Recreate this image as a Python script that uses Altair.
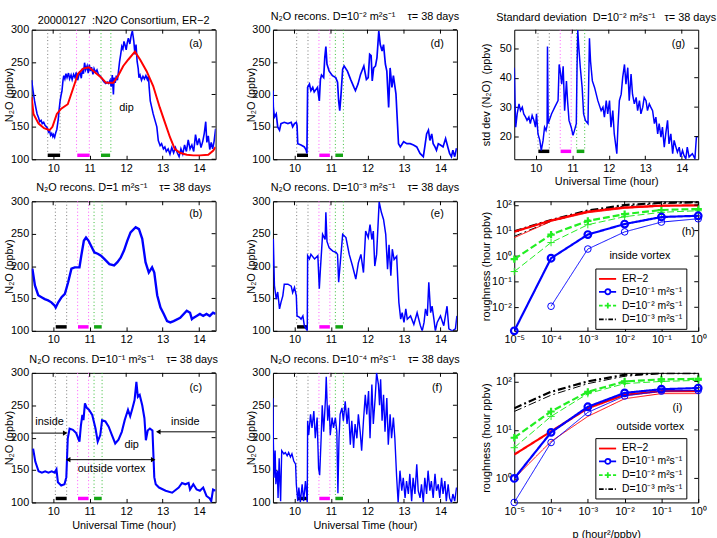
import altair as alt
import pandas as pd

FONT = "Liberation Sans"
W, H = 186, 131
TDOM = [9.41, 14.45]
HOURS = [10, 11, 12, 13, 14]
N2O_TICKS = [100, 150, 200, 250, 300]
SD_TICKS = [20, 30, 40, 50]
BLUE, RED, GREEN, MAG, BARGREEN = "#0000ff", "#ff0000", "#22ee22", "#ff00ff", "#14a514"
NB = "\u00a0"

# ---------------- (a) ER-2 measurement (blue) and smoothed (red)
A_T = [9.41, 9.45, 9.49, 9.53, 9.56, 9.6, 9.63, 9.67, 9.7, 9.74, 9.78, 9.82, 9.85, 9.87, 9.9, 9.93, 9.96, 9.99,
       10.01, 10.04, 10.07, 10.1, 10.14, 10.16, 10.19, 10.22, 10.24, 10.27, 10.29, 10.32, 10.35, 10.38, 10.42,
       10.45, 10.49, 10.52, 10.56, 10.6, 10.63, 10.67, 10.7, 10.73, 10.77, 10.8, 10.83, 10.86, 10.89, 10.93,
       10.96, 10.99, 11.02, 11.05, 11.09, 11.12, 11.16, 11.2, 11.24, 11.28, 11.32, 11.36, 11.4, 11.44, 11.48,
       11.52, 11.56, 11.59, 11.62, 11.65, 11.67, 11.7, 11.73, 11.76, 11.79, 11.82, 11.85, 11.88, 11.91, 11.94,
       11.97, 12.0, 12.03, 12.06, 12.1, 12.14, 12.17, 12.19, 12.21, 12.24, 12.27, 12.3, 12.33, 12.35, 12.38,
       12.42, 12.46, 12.5, 12.54, 12.58, 12.61, 12.63, 12.66, 12.7, 12.74, 12.79, 12.84, 12.88, 12.93, 12.97,
       13.02, 13.06, 13.1, 13.15, 13.2, 13.25, 13.3, 13.35, 13.4, 13.45, 13.5, 13.55, 13.6, 13.65, 13.7, 13.75,
       13.8, 13.85, 13.9, 13.95, 14.0, 14.05, 14.1, 14.14, 14.18, 14.21, 14.25, 14.29, 14.33, 14.37, 14.41, 14.45]
A_V = [222, 205, 190, 178, 170, 164, 158, 160, 155, 157, 152, 150, 147, 142, 144, 137, 140, 135,
       138, 134, 141, 146, 162, 175, 190, 200, 205, 222, 229, 224, 232, 226, 233,
       224, 230, 223, 231, 226, 234, 222, 229, 236, 225, 240, 232, 249, 238, 244,
       233, 246, 236, 242, 231, 240, 234, 238, 231, 229, 226, 222, 219, 217, 219,
       217, 222, 212, 230, 200, 226, 218, 229, 222, 236, 251, 262, 274, 270, 282,
       276, 269, 280, 287, 278, 292, 298, 290, 282, 262, 277, 251, 240, 226, 230,
       222, 228, 224, 229, 223, 228, 211, 190, 180, 170, 160, 150, 129, 121, 124,
       116, 119, 112, 116, 108, 118, 110, 118, 110, 104, 116, 108, 122, 112, 130, 116,
       122, 112, 138, 122, 132, 118, 128, 140, 158, 126, 136, 115, 126, 116, 128, 147]
A_RED_T = [9.41, 9.46, 9.6, 9.75, 9.9, 9.98, 10.1, 10.22, 10.4, 10.55, 10.68, 10.82, 10.98, 11.15, 11.32,
           11.45, 11.65, 11.78, 11.92, 12.06, 12.24, 12.38, 12.56, 12.74, 12.92, 13.06, 13.2, 13.33, 13.47,
           13.66, 13.84, 14.02, 14.25, 14.38, 14.45]
A_RED_V = [196, 170, 155, 148, 145, 150, 170, 178, 185, 210, 232, 240, 242, 234, 226,
           218, 218, 229, 244, 254, 266, 254, 236, 213, 180, 157, 134, 116, 110,
           107, 106, 106, 107, 113, 119]

# ---------------- (b) D = 1
B_T = [9.43, 9.5, 9.59, 9.68, 9.77, 9.86, 9.95, 10.04, 10.07, 10.14, 10.23, 10.32, 10.36, 10.41, 10.5, 10.59,
       10.72, 10.77, 10.84, 10.9, 10.97, 11.04, 11.13, 11.22, 11.31, 11.4, 11.54, 11.67, 11.76, 11.85, 11.94,
       12.03, 12.12, 12.26, 12.35, 12.44, 12.53, 12.62, 12.71, 12.77, 12.85, 12.94, 13.03, 13.12, 13.21, 13.3,
       13.48, 13.66, 13.75, 13.8, 13.84, 13.93, 14.02, 14.11, 14.2, 14.29, 14.38, 14.45]
B_V = [196, 170, 155, 152, 149, 147, 144, 139, 136, 144, 152, 157, 165, 175, 196, 198,
       198, 216, 239, 244, 239, 231, 221, 219, 216, 211, 203, 201, 206, 213, 224,
       239, 252, 260, 257, 242, 206, 190, 198, 190, 155, 136, 126, 115, 113, 115,
       120, 131, 128, 118, 120, 123, 126, 123, 126, 123, 128, 126]

# ---------------- (c) D = 1e-1
C_T = [9.45, 9.51, 9.6, 9.69, 9.78, 9.87, 9.96, 10.04, 10.09, 10.13, 10.22, 10.31, 10.36, 10.4, 10.45, 10.54,
       10.63, 10.72, 10.76, 10.8, 10.83, 10.87, 10.92, 10.98, 11.07, 11.16, 11.22, 11.29, 11.34, 11.43, 11.52,
       11.61, 11.7, 11.79, 11.88, 11.96, 12.05, 12.11, 12.17, 12.23, 12.28, 12.32, 12.37, 12.44, 12.5, 12.54,
       12.59, 12.65, 12.72, 12.77, 12.81, 12.9, 13.08, 13.26, 13.44, 13.53, 13.62, 13.71, 13.75, 13.84, 13.93,
       14.02, 14.11, 14.2, 14.29, 14.33, 14.38, 14.45]
C_V = [183, 163, 148, 146, 148, 146, 148, 146, 151, 131, 126, 128, 139, 199, 214, 212,
       207, 194, 219, 235, 227, 253, 246, 243, 235, 214, 194, 204, 227, 225, 217,
       204, 191, 197, 209, 227, 243, 233, 245, 258, 286, 263, 266, 250, 230, 196,
       211, 214, 211, 139, 128, 123, 118, 115, 123, 130, 128, 130, 120, 128, 120,
       118, 123, 110, 106, 102, 120, 118]

# ---------------- (d) D = 1e-2
D_T = [9.41, 9.42, 9.45, 9.5, 9.54, 9.59, 9.63, 9.72, 9.82, 9.91, 9.95, 10.0, 10.05, 10.07, 10.09, 10.18,
       10.27, 10.32, 10.34, 10.36, 10.41, 10.45, 10.5, 10.54, 10.63, 10.68, 10.71, 10.74, 10.8, 10.83, 10.86,
       10.89, 10.95, 11.04, 11.13, 11.18, 11.21, 11.24, 11.27, 11.32, 11.36, 11.45, 11.54, 11.63, 11.67, 11.74,
       11.81, 11.9, 11.97, 12.02, 12.06, 12.1, 12.13, 12.17, 12.22, 12.26, 12.31, 12.35, 12.4, 12.44, 12.49,
       12.53, 12.58, 12.62, 12.67, 12.71, 12.78, 12.85, 12.9, 12.99, 13.08, 13.17, 13.26, 13.35, 13.44, 13.53,
       13.57, 13.62, 13.67, 13.71, 13.76, 13.8, 13.85, 13.89, 13.94, 14.0, 14.07, 14.14, 14.21, 14.25, 14.3,
       14.34, 14.39, 14.44]
D_V = [206, 180, 165, 170, 150, 145, 155, 157, 155, 157, 150, 155, 157, 152, 124, 122,
       119, 114, 109, 211, 216, 206, 211, 204, 211, 190, 223, 230, 226, 257, 274,
       247, 236, 229, 226, 219, 190, 175, 196, 239, 244, 236, 223, 211, 206, 216,
       231, 244, 223, 226, 262, 260, 221, 241, 244, 257, 298, 277, 267, 277, 247,
       236, 180, 241, 211, 229, 201, 124, 119, 127, 124, 124, 122, 119, 109, 104,
       119, 139, 145, 129, 139, 124, 119, 114, 124, 122, 119, 132, 117, 109, 104,
       114, 104, 117]

# ---------------- (e) D = 1e-3
E_T = [9.41, 9.42, 9.45, 9.5, 9.54, 9.59, 9.63, 9.68, 9.72, 9.82, 9.91, 9.95, 10.0, 10.05, 10.07, 10.14,
       10.18, 10.23, 10.27, 10.32, 10.35, 10.36, 10.41, 10.45, 10.55, 10.64, 10.68, 10.71, 10.77, 10.84, 10.86,
       10.89, 10.95, 11.05, 11.14, 11.18, 11.21, 11.24, 11.32, 11.41, 11.5, 11.59, 11.68, 11.75, 11.82, 11.89,
       11.95, 12.02, 12.07, 12.12, 12.16, 12.2, 12.25, 12.32, 12.38, 12.44, 12.5, 12.55, 12.59, 12.64, 12.68,
       12.73, 12.8, 12.86, 12.91, 12.95, 13.0, 13.05, 13.09, 13.18, 13.27, 13.36, 13.45, 13.5, 13.55, 13.59,
       13.64, 13.68, 13.73, 13.77, 13.82, 13.86, 13.91, 14.0, 14.09, 14.18, 14.23, 14.32, 14.41, 14.45]
E_V = [200, 242, 170, 149, 160, 134, 144, 154, 172, 172, 169, 159, 167, 154, 123, 121,
       118, 123, 108, 103, 100, 216, 211, 218, 211, 216, 165, 195, 249, 241, 283,
       238, 228, 223, 221, 218, 175, 195, 249, 244, 218, 200, 180, 205, 218, 190,
       254, 244, 264, 241, 254, 200, 218, 299, 283, 272, 249, 195, 233, 185, 226,
       210, 215, 144, 118, 128, 113, 134, 118, 123, 110, 128, 108, 100, 113, 134,
       123, 175, 128, 138, 118, 100, 113, 123, 108, 138, 103, 100, 103, 123]

# ---------------- (f) D = 1e-4
F_T = [9.41, 9.42, 9.44, 9.47, 9.49, 9.53, 9.55, 9.58, 9.62, 9.65, 9.71, 9.75, 9.8, 9.84, 9.89, 9.93, 9.98,
       10.03, 10.05, 10.09, 10.12, 10.16, 10.21, 10.25, 10.3, 10.35, 10.36, 10.39, 10.44, 10.48, 10.53, 10.57,
       10.62, 10.66, 10.69, 10.73, 10.76, 10.8, 10.85, 10.87, 10.91, 10.95, 10.98, 11.03, 11.07, 11.12, 11.16,
       11.19, 11.22, 11.25, 11.3, 11.34, 11.39, 11.44, 11.48, 11.53, 11.57, 11.62, 11.66, 11.71, 11.75, 11.8,
       11.84, 11.89, 11.94, 11.98, 12.03, 12.07, 12.12, 12.16, 12.21, 12.25, 12.3, 12.33, 12.36, 12.4, 12.44,
       12.48, 12.53, 12.57, 12.62, 12.66, 12.71, 12.75, 12.8, 12.84, 12.89, 12.94, 12.98, 13.03, 13.07, 13.12,
       13.16, 13.21, 13.25, 13.3, 13.35, 13.39, 13.44, 13.48, 13.53, 13.57, 13.62, 13.66, 13.71, 13.75, 13.8,
       13.85, 13.89, 13.94, 13.98, 14.03, 14.07, 14.12, 14.16, 14.21, 14.25, 14.3, 14.34, 14.39, 14.44]
F_V = [261, 199, 138, 180, 128, 149, 107, 168, 102, 180, 175, 177, 172, 177, 170, 175, 164,
       159, 128, 102, 123, 100, 128, 102, 133, 100, 226, 204, 236, 215, 241, 199,
       231, 153, 142, 199, 250, 209, 261, 294, 226, 250, 204, 231, 215, 231, 209,
       114, 199, 236, 246, 226, 256, 221, 246, 189, 226, 184, 221, 199, 236, 209,
       180, 226, 266, 236, 272, 199, 282, 221, 261, 300, 282, 250, 290, 226, 266,
       209, 261, 189, 236, 199, 231, 199, 138, 100, 149, 118, 138, 107, 133, 113,
       144, 102, 138, 113, 159, 118, 107, 128, 100, 138, 113, 149, 118, 133, 107,
       144, 118, 128, 107, 138, 113, 133, 102, 128, 107, 100, 113, 102, 123]

# ---------------- (g) standard deviation, D = 1e-2
G_T = [9.41, 9.43, 9.45, 9.49, 9.54, 9.58, 9.63, 9.67, 9.72, 9.76, 9.81, 9.85, 9.9, 9.95, 9.99, 10.02,
       10.06, 10.11, 10.15, 10.2, 10.24, 10.28, 10.31, 10.32, 10.34, 10.43, 10.52, 10.61, 10.64, 10.67, 10.71,
       10.75, 10.79, 10.84, 10.87, 10.91, 10.97, 11.02, 11.06, 11.11, 11.13, 11.15, 11.18, 11.22, 11.27, 11.31,
       11.36, 11.43, 11.47, 11.5, 11.55, 11.61, 11.7, 11.79, 11.84, 11.88, 11.93, 11.97, 12.02, 12.06, 12.11,
       12.15, 12.22, 12.25, 12.29, 12.34, 12.38, 12.43, 12.47, 12.52, 12.56, 12.61, 12.65, 12.7, 12.75, 12.79,
       12.84, 12.88, 12.93, 12.97, 13.02, 13.06, 13.11, 13.15, 13.2, 13.25, 13.29, 13.34, 13.38, 13.43, 13.47,
       13.52, 13.56, 13.61, 13.65, 13.7, 13.75, 13.79, 13.84, 13.88, 13.93, 13.97, 14.02, 14.06, 14.11, 14.15,
       14.2, 14.29, 14.36, 14.4, 14.44]
G_V = [43.4, 32.2, 23.2, 27.7, 31.1, 28.8, 30, 27.7, 26.6, 25.5, 26.6, 24.4, 27.2, 25.5, 23.2, 27.7,
       20.9, 18.7, 15.3, 18.7, 23.2, 22.1, 23.8, 50.6, 24.4, 27.7, 30, 32.2, 44.5, 42.3, 37.8,
       43.9, 28.8, 38.9, 32.2, 25.5, 23.2, 20.4, 22.1, 24.4, 43.4, 56.2, 50, 43.4, 36.7, 27.7,
       25.5, 24.4, 53.4, 45.6, 38.9, 36.7, 32.2, 28.8, 30, 26.6, 32.2, 27.7, 32.2, 23.2, 28.8,
       20.9, 14.2, 23.2, 32.2, 34.4, 40, 44.5, 37.8, 43.4, 32.2, 41.2, 34.4, 31.1, 33.3, 28.8,
       32.2, 27.7, 30, 33.3, 32.2, 28.8, 31.1, 30, 28.8, 24.4, 26.6, 20.9, 24.4, 19.8, 23.2,
       16.4, 20.9, 25.5, 17.5, 20.9, 14.2, 18.7, 16.4, 14.7, 16.4, 13.1, 15.3, 13.6, 12.5, 16.4,
       13.1, 14.2, 12.5, 19.8, 20]

# ---------------- time markers (dotted lines and coloured bars)
A_LINES = [9.85, 10.19, 10.64, 10.99, 11.31, 11.58]
A_BARS = [(9.85, 10.19), (10.66, 11.0), (11.31, 11.56)]
LINES = [10.06, 10.37, 10.67, 10.97, 11.12, 11.34]
BARS = [(10.07, 10.37), (10.68, 10.97), (11.12, 11.33)]
LINE_COLORS = ["#777777", "#777777", "#ff55ff", "#ff55ff", "#33bb33", "#33bb33"]
BAR_COLORS = ["black", MAG, BARGREEN]

# ---------------- roughness (h: inside vortex, i: outside vortex)
P = [1e-5, 1e-4, 1e-3, 1e-2, 1e-1, 1]
SERIES = ["ER\u22122", "D=10\u207b\u00b9 m\u00b2s\u207b\u00b9", "D=10\u207b\u00b2 m\u00b2s\u207b\u00b9",
          "D=10\u207b\u00b3 m\u00b2s\u207b\u00b9"]
H_THICK = {0: [9, 25, 55, 80, 95, 97], 1: [0.0012, 0.83, 7, 18, 34, 38],
           2: [0.76, 7, 24, 44, 64, 70], 3: [9.4, 26, 61, 100, 123, 130]}
H_THIN = {0: [5.3, 23, 50, 74, 90, 95], 1: [None, 0.011, 1.9, 8.9, 21.5, 29],
          2: [0.25, 3.4, 17, 35, 52, 60], 3: [6, 23, 55, 92, 116, 123]}
I_THICK = {0: [3.1, 9.3, 28, 53, 63, 63], 1: [1.0, 8.9, 30, 58, 69, 73],
           2: [6.9, 24, 61, 100, 110, 113], 3: [28, 61, 100, 137, 150, 150]}
I_THIN = {0: [1.0, 5.8, 19, 44, 56, 56], 1: [0.32, 5.5, 23, 50, 63, 65],
          2: [4.3, 19, 56, 90, 100, 105], 3: [24, 52, 90, 128, 144, 144]}
S_COLORS = [RED, BLUE, GREEN, "black"]
S_DASH = [[1, 0], [1, 0], [7, 3], [8, 3, 2, 3]]
LEG_PATHS = ["M-1.3,0L2,0",
             "M-1.3,0L-0.1,0M0.9,0L2,0M-0.1,0A0.5,0.5,0,1,1,0.9,0A0.5,0.5,0,1,1,-0.1,0",
             "M-1.3,0L-0.6,0M-0.2,0L1.0,0M1.4,0L2,0M0.4,-0.55L0.4,0.55",
             "M-1.3,0L-0.4,0M-0.05,0L0.15,0M0.5,0L1.4,0M1.75,0L1.95,0"]
PLUS = "M-1,0L1,0M0,-1L0,1"

SUP_EXPR = ("datum.value < 3e-5 ? '10\u207b\u2075' : datum.value < 3e-4 ? '10\u207b\u2074' : "
            "datum.value < 3e-3 ? '10\u207b\u00b3' : datum.value < 3e-2 ? '10\u207b\u00b2' : "
            "datum.value < 0.3 ? '10\u207b\u00b9' : datum.value < 3 ? '10\u2070' : "
            "datum.value < 30 ? '10\u00b9' : '10\u00b2'")


def axis(values, title, orient, expr=None, fmt=None, title_x=-26, title_pad=3):
    kw = dict(values=values, tickSize=4, tickColor="black", offset=-4, domain=False, grid=False,
              labelPadding=3, labelFlush=False)
    kw["title"] = title if title else None
    if title and orient == "y":
        kw.update(titleX=title_x, titleBaseline="middle")
    if title and orient == "x":
        kw.update(titlePadding=title_pad)
    if expr:
        kw["labelExpr"] = expr
    if fmt:
        kw["format"] = fmt
    return alt.Axis(**kw)


def text_layer(s, x, y, baseline="middle"):
    return alt.Chart(pd.DataFrame({"lab": [s]})).mark_text(
        font=FONT, fontSize=11, color="black", baseline=baseline).encode(
        text="lab:N", x=alt.value(x), y=alt.value(y))


def ts_panel(t, v, title, lab, ydom, yticks, ytitle, lines, bars, xtitle=None, bar_off=4,
             red=None, notes=None, arrows=None, heads=None, title_y=-10, title_x=-26, lab_y=15, sw=1.4):
    xs = alt.Scale(domain=TDOM, nice=False, zero=False)
    ys = alt.Scale(domain=ydom, nice=False, zero=False)
    X = alt.X("t:Q", scale=xs, axis=axis(HOURS, xtitle, "x", fmt="d"))
    Y = alt.Y("v:Q", scale=ys, axis=axis(yticks, ytitle, "y", title_x=title_x))
    layers = []
    dl = pd.DataFrame({"t": lines, "c": LINE_COLORS})
    layers.append(alt.Chart(dl).mark_rule(strokeDash=[1, 2.5], strokeWidth=1).encode(
        x=X, y=alt.value(0), y2=alt.value(H - bar_off - 3), color=alt.Color("c:N", scale=None)))
    db = pd.DataFrame({"t": [b[0] for b in bars], "t2": [b[1] for b in bars], "c": BAR_COLORS})
    layers.append(alt.Chart(db).mark_rule(strokeWidth=3.5).encode(
        x=X, x2="t2:Q", y=alt.value(H - bar_off), color=alt.Color("c:N", scale=None)))
    layers.append(alt.Chart(pd.DataFrame({"t": t, "v": v})).mark_line(
        color=BLUE, strokeWidth=sw, clip=True).encode(x=X, y=Y))
    if red is not None:
        layers.append(alt.Chart(pd.DataFrame({"t": red[0], "v": red[1]})).mark_line(
            color=RED, strokeWidth=2, clip=True).encode(x=X, y=Y))
    if arrows is not None:
        layers.append(alt.Chart(pd.DataFrame(arrows, columns=["t", "t2", "v"])).mark_rule(
            color="black", strokeWidth=1).encode(x=X, x2="t2:Q", y=Y))
        layers.append(alt.Chart(pd.DataFrame(heads, columns=["t", "v", "sh"])).mark_point(
            filled=True, color="black", size=28, opacity=1).encode(
            x=X, y=Y, shape=alt.Shape("sh:N", scale=None)))
    if notes is not None:
        layers.append(alt.Chart(pd.DataFrame(notes, columns=["t", "v", "s"])).mark_text(
            font=FONT, fontSize=11, color="black").encode(x=X, y=Y, text="s:N"))
    layers.append(alt.Chart(pd.DataFrame({"t": HOURS})).mark_rule(color="black").encode(
        x=X, y=alt.value(0), y2=alt.value(4)))
    layers.append(alt.Chart(pd.DataFrame({"v": yticks})).mark_rule(color="black").encode(
        y=Y, x=alt.value(W - 4), x2=alt.value(W)))
    layers.append(text_layer(lab, W - 20, lab_y))
    layers.append(text_layer(title, W / 2, title_y, baseline="alphabetic"))
    return alt.layer(*layers).properties(width=W, height=H)


def rough_panel(thick, thin, lab, lab_pos, ydom, yvals, note, legy, xtitle=None):
    xs = alt.Scale(type="log", domain=[1e-5, 1], nice=False)
    ys = alt.Scale(type="log", domain=ydom, nice=False)
    X = alt.X("p:Q", scale=xs, axis=axis(P, xtitle, "x", expr=SUP_EXPR, title_pad=12))
    Y = alt.Y("r:Q", scale=ys, axis=axis(yvals, "roughness (hour ppbv)", "y", expr=SUP_EXPR, title_x=-32))
    layers = []
    for k in [3, 2, 0, 1]:
        for vals, sw in ((thin[k], 1), (thick[k], 2.2)):
            d = pd.DataFrame({"p": P, "r": vals})
            layers.append(alt.Chart(d).mark_line(color=S_COLORS[k], strokeWidth=sw,
                                                 strokeDash=S_DASH[k], clip=True).encode(x=X, y=Y))
            if k == 1:
                layers.append(alt.Chart(d).mark_point(shape="circle", filled=False, color=BLUE,
                                                      size=45, strokeWidth=sw, opacity=1).encode(x=X, y=Y))
            if k == 2:
                layers.append(alt.Chart(d).mark_point(shape=PLUS, filled=False, color=GREEN,
                                                      size=55, strokeWidth=sw, opacity=1).encode(x=X, y=Y))
    layers.append(alt.Chart(pd.DataFrame({"p": [note[0]], "r": [note[1]], "s": [note[2]]})).mark_text(
        font=FONT, fontSize=11, color="black").encode(x=X, y=Y, text="s:N"))
    # legend (drawn by the library from an off-scale dummy layer)
    leg = alt.Legend(title=None, orient="none", legendX=82, legendY=legy, fillColor="white",
                     strokeColor="black", padding=4, rowPadding=1, symbolSize=110,
                     symbolStrokeWidth=1.8, labelFont=FONT, labelFontSize=10.5, labelLimit=200,
                     labelOffset=10)
    dl = pd.DataFrame({"p": [1e-9] * 4, "r": [1.0] * 4, "s": SERIES})
    layers.append(alt.Chart(dl).mark_point(filled=False, clip=True, strokeWidth=1.8, opacity=1).encode(
        x=X, y=Y,
        color=alt.Color("s:N", scale=alt.Scale(domain=SERIES, range=S_COLORS), legend=leg),
        shape=alt.Shape("s:N", scale=alt.Scale(domain=SERIES, range=LEG_PATHS), legend=leg)))
    layers.append(alt.Chart(pd.DataFrame({"p": P})).mark_rule(color="black").encode(
        x=X, y=alt.value(0), y2=alt.value(4)))
    layers.append(alt.Chart(pd.DataFrame({"r": yvals})).mark_rule(color="black").encode(
        y=Y, x=alt.value(W - 4), x2=alt.value(W)))
    layers.append(text_layer(lab, W - lab_pos[0], lab_pos[1]))
    return alt.layer(*layers).properties(width=W, height=H)


NY = "N\u2082O (ppbv)"
UT = "Universal Time (hour)"
TAU = NB * 4 + "\u03c4= 38 days"


def recons(dstr):
    return "N\u2082O recons. D=" + dstr + " m\u00b2s\u207b\u00b9" + TAU


pa = ts_panel(A_T, A_V, "20000127" + NB + NB + ":N2O Consortium, ER\u22122", "(a)", [100, 300], N2O_TICKS, NY,
              A_LINES, A_BARS, red=(A_RED_T, A_RED_V), notes=[(12.01, 179, "dip")], title_y=-6, sw=1.6)
pb = ts_panel(B_T, B_V, recons("1"), "(b)", [100, 300], N2O_TICKS, NY, LINES, BARS, lab_y=13, sw=2.4)
pc = ts_panel(C_T, C_V, recons("10\u207b\u00b9"), "(c)", [100, 300], N2O_TICKS, NY, LINES, BARS, xtitle=UT,
              notes=[(9.9, 224, "inside"), (13.62, 224, "inside"), (12.15, 189, "dip"),
                     (11.6, 151, "outside vortex")],
              arrows=[(9.41, 10.3, 207), (12.92, 14.45, 209), (10.43, 12.72, 166)],
              heads=[(10.33, 207, "triangle-right"), (12.88, 209, "triangle-left"),
                     (10.41, 166, "triangle-left"), (12.74, 166, "triangle-right")], sw=2.1)
pd_ = ts_panel(D_T, D_V, recons("10\u207b\u00b2"), "(d)", [100, 300], N2O_TICKS, NY, LINES, BARS, sw=1.7)
pe = ts_panel(E_T, E_V, recons("10\u207b\u00b3"), "(e)", [100, 300], N2O_TICKS, NY, LINES, BARS, lab_y=13,
              sw=1.5)
pf = ts_panel(F_T, F_V, recons("10\u207b\u2074"), "(f)", [100, 300], N2O_TICKS, NY, LINES, BARS, xtitle=UT,
              sw=1.4)
pg = ts_panel(G_T, G_V, "Standard deviation" + NB + NB + "D=10\u207b\u00b2 m\u00b2s\u207b\u00b9" + NB * 3 +
              "\u03c4= 38 days", "(g)", [12.3, 56.3], SD_TICKS, "std dev (N\u2082O)" + NB + NB + "(ppbv)",
              LINES, BARS, xtitle=UT, bar_off=8, title_y=-9, title_x=-32, sw=1.5)
ph = rough_panel(H_THICK, H_THIN, "(h)", (10, 31), [0.0012, 140], [0.01, 0.1, 1, 10, 100],
                 (0.026, 1.0, "inside vortex"), 68)
pi = rough_panel(I_THICK, I_THIN, "(i)", (21, 36), [0.32, 150], [1, 10, 100],
                 (0.05, 11.7, "outside vortex"), 66, xtitle="p (hour\u00b2/ppbv)")

chart = alt.ConcatChart(
    concat=[pa, pd_, pg, pb, pe, ph, pc, pf, pi], columns=3,
    spacing={"row": 42.5, "column": 58}, bounds="flush"
).resolve_scale(
    x="independent", y="independent", color="independent", shape="independent"
).properties(
    padding={"left": 3, "top": 7, "right": 0, "bottom": 0}, background="white"
).configure_axis(
    labelFont=FONT, titleFont=FONT, labelFontSize=11, titleFontSize=11, titleFontWeight="normal",
    labelColor="black", titleColor="black", tickColor="black"
).configure_view(stroke="black", strokeWidth=1)

chart.save("out.html", embed_options={"renderer": "svg", "actions": False})
